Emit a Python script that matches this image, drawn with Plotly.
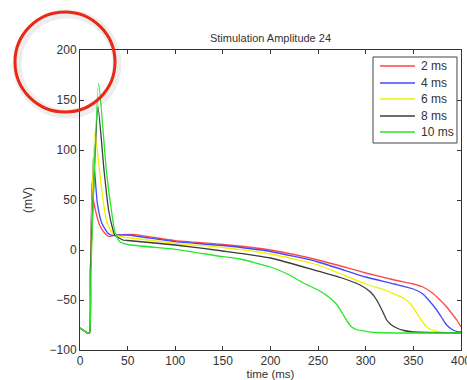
import plotly.graph_objects as go

names = ["2 ms", "4 ms", "6 ms", "8 ms", "10 ms"]
colors = ["rgb(255,70,70)", "rgb(70,70,255)", "rgb(240,240,0)", "rgb(60,60,60)", "rgb(40,230,40)"]

t_2ms = [0, 8, 10, 11, 12.6, 13.6, 17, 20.6, 26, 31, 36.4, 45, 56, 100, 150, 200, 250, 300, 330, 350, 360, 370, 378, 385, 390, 395.5, 400]
v_2ms = [-78, -83, -83, -20, 67, 53, 36.7, 25, 16.7, 13.3, 15, 15.2, 15.7, 9.3, 5.5, 0, -10, -23, -30, -34, -37, -43, -50, -57, -63, -70, -77]

t_4ms = [0, 8, 10, 11, 14, 18.2, 23, 29.4, 35, 40, 50, 100, 150, 200, 250, 300, 330, 350, 360, 366, 374.5, 380, 385, 390, 394, 400]
v_4ms = [-78, -83, -83, -20, 93, 46.7, 26.7, 16.7, 14.3, 15, 15, 8.3, 4.5, -1.5, -12, -27, -34, -39, -44, -50, -60, -68, -75, -79, -81, -82]

t_6ms = [0, 8, 10, 11, 15.5, 22.4, 27.6, 32.9, 36.4, 45, 50, 100, 150, 200, 250, 300, 320, 330, 339.5, 347, 353.5, 359, 364, 370, 378, 390, 400]
v_6ms = [-78, -83, -83, -20, 118, 63.3, 30, 18.3, 15, 13, 12.5, 6.7, 2.5, -4, -15, -34, -40, -44, -48, -54, -63, -71, -77, -80, -82, -83, -83]

t_8ms = [0, 8, 10, 11, 18.9, 25.2, 30, 34.6, 36.4, 45, 50, 100, 150, 200, 252, 275, 294, 305, 311.5, 317, 322, 327, 332.5, 340, 350, 400]
v_8ms = [-78, -83, -83, -20, 143, 80, 40, 20, 15, 10, 9.5, 5, -1, -8, -21.7, -28, -35, -42, -50, -60, -70, -75, -78, -80.5, -82, -83]

t_10ms = [0, 8, 10, 11.5, 19.6, 27.6, 32.9, 37, 41.7, 50, 100, 150, 168, 200, 220, 234.5, 250, 262.5, 270, 276.5, 281, 285, 290, 297, 310, 400]
v_10ms = [-78, -83, -83, -20, 166.7, 80, 40, 16.7, 8.3, 5.5, 0.7, -6.7, -9, -17, -25, -33, -40, -48, -55, -65, -72, -76.7, -79.5, -80.7, -82.5, -83]

series = [(t_2ms, v_2ms), (t_4ms, v_4ms), (t_6ms, v_6ms), (t_8ms, v_8ms), (t_10ms, v_10ms)]

fig = go.Figure()
for (t, v), n, c in zip(series, names, colors):
    fig.add_trace(go.Scatter(x=t, y=v, mode="lines", name=n, showlegend=False,
                             line=dict(color=c, width=1.3, shape="spline", smoothing=0.5)))

axis_common = dict(showgrid=False, zeroline=False, showline=True, linecolor="#333",
                   linewidth=1, mirror="ticks", ticks="inside", ticklen=4, tickcolor="#333",
                   automargin=False, ticklabeloverflow="allow",
                   tickfont=dict(size=12, color="#333", family="Liberation Sans, Arial"))

fig.update_xaxes(range=[0, 400], dtick=50, tick0=0,
                 title=dict(text="time (ms)", font=dict(size=11.5, color="#333"), standoff=7),
                 **axis_common)
fig.update_yaxes(range=[-100, 200], dtick=50, tick0=-100,
                 title=dict(text="(mV)", font=dict(size=12, color="#333"), standoff=14),
                 **axis_common)

# legend box drawn in paper coordinates (MATLAB-style compact legend)
lx0, lx1, ly0, ly1 = 0.769, 0.9895, 0.69, 0.9767
fig.add_shape(type="rect", xref="paper", yref="paper", x0=lx0, x1=lx1, y0=ly0, y1=ly1,
              line=dict(color="#444", width=1), fillcolor="white", layer="above")
entry_y = [0.9467, 0.89, 0.8367, 0.78, 0.7267]
for n, c, yy in zip(names, colors, entry_y):
    fig.add_shape(type="line", xref="paper", yref="paper", x0=0.7874, x1=0.8793, y0=yy, y1=yy,
                  line=dict(color=c, width=1.5), layer="above")
    fig.add_annotation(xref="paper", yref="paper", x=0.8898, y=yy, text=n, showarrow=False,
                       xanchor="left", yanchor="middle",
                       font=dict(size=12, color="#333", family="Liberation Sans, Arial"))

# red circle annotation (with faint shadow)
fig.add_shape(type="circle", xref="paper", yref="paper",
              x0=-0.165, x1=0.097, y0=0.787, y1=1.12,
              line=dict(color="rgba(0,0,0,0.07)", width=9), layer="above")
fig.add_shape(type="circle", xref="paper", yref="paper",
              x0=-0.1706, x1=0.0919, y0=0.7933, y1=1.1267,
              line=dict(color="rgb(235,40,20)", width=3), layer="above")

fig.update_layout(
    width=467, height=380,
    margin=dict(l=80, r=6, t=50, b=30),
    paper_bgcolor="white", plot_bgcolor="white",
    font=dict(family="Liberation Sans, Arial", color="#333"),
    title=dict(text="Stimulation Amplitude 24", x=0.5, xref="paper",
               y=(380 - 38) / 380, yref="container", yanchor="middle",
               font=dict(size=11, color="#333")),
    showlegend=False,
)

fig.write_html("out.html")
